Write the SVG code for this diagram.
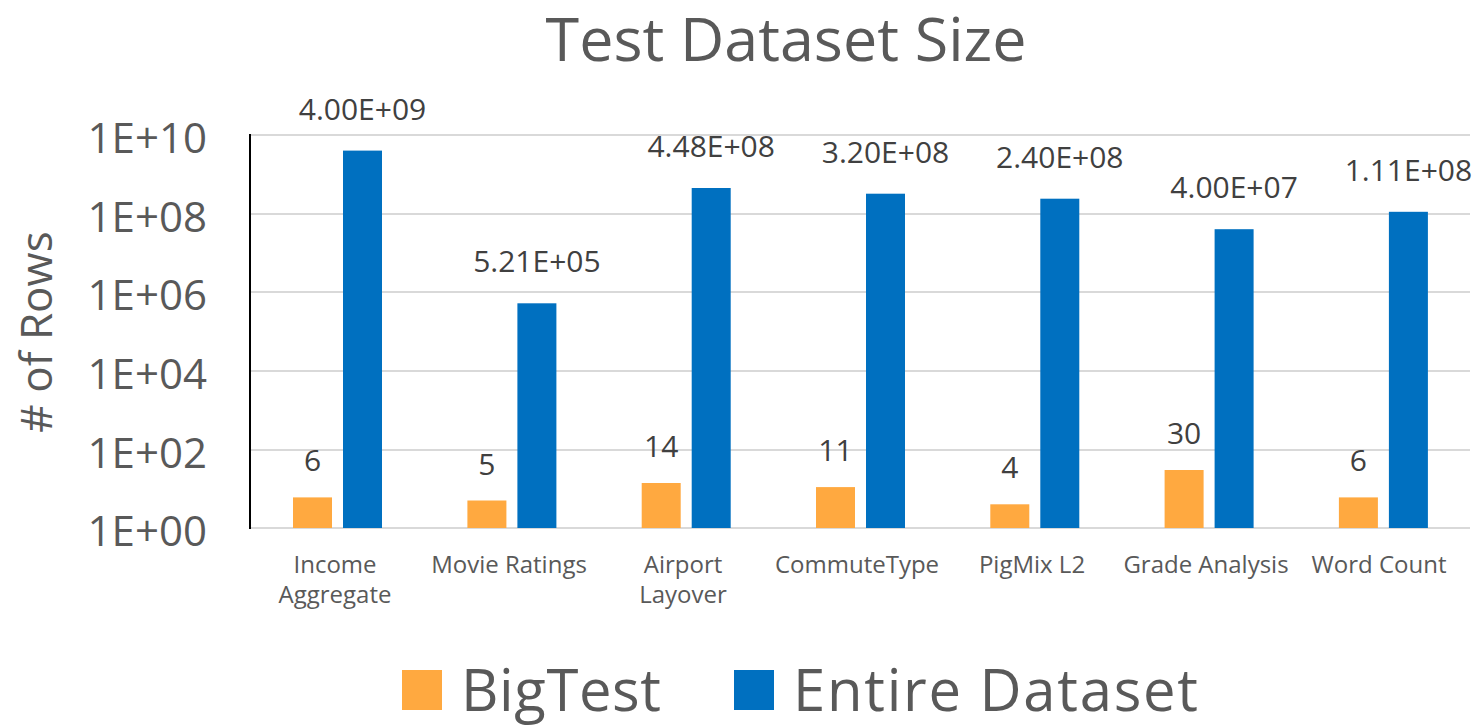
<svg xmlns="http://www.w3.org/2000/svg" width="1474" height="725" viewBox="0 0 1474 725">
<style>
text{font-family:"Open Sans","Noto Sans",sans-serif;}
.title{font-size:61px;fill:#595959;text-anchor:middle;}
.tick{font-size:42px;fill:#595959;text-anchor:end;}
.axt{font-size:44px;fill:#595959;text-anchor:middle;}
.cat{font-size:24px;fill:#595959;text-anchor:middle;}
.dl{font-size:30px;fill:#404040;text-anchor:middle;}
.leg{font-size:58px;fill:#595959;}
.grid{stroke:#d9d9d9;stroke-width:2;}
.o{fill:#FFA940;}
.b{fill:#0070C0;}
</style>
<rect width="1474" height="725" fill="#fff"/>
<text class="title" x="786" y="61">Test Dataset Size</text>
<g id="axes">
<line class="grid" x1="250" y1="135" x2="1470" y2="135"/>
<line class="grid" x1="250" y1="214" x2="1470" y2="214"/>
<line class="grid" x1="250" y1="292" x2="1470" y2="292"/>
<line class="grid" x1="250" y1="371" x2="1470" y2="371"/>
<line class="grid" x1="250" y1="450" x2="1470" y2="450"/>
<line class="grid" x1="250" y1="528" x2="1470" y2="528"/>
<line x1="250" y1="134" x2="250" y2="529" stroke="#000" stroke-width="2"/>
<text class="tick" x="207" y="153">1E+10</text>
<text class="tick" x="207" y="232">1E+08</text>
<text class="tick" x="207" y="310">1E+06</text>
<text class="tick" x="207" y="389">1E+04</text>
<text class="tick" x="207" y="468">1E+02</text>
<text class="tick" x="207" y="546">1E+00</text>
<text class="axt" transform="translate(52,332) rotate(-90)"># of Rows</text>
</g>
<g id="income-aggregate">
<rect class="o" x="293" y="497.4" width="39" height="30.6"/>
<rect class="b" x="343" y="150.6" width="39" height="377.4"/>
<text class="dl" x="312.5" y="471.4">6</text>
<text class="dl" x="362.5" y="119.6">4.00E+09</text>
<text class="cat" x="335" y="573">Income</text>
<text class="cat" x="335" y="603">Aggregate</text>
</g>
<g id="movie-ratings">
<rect class="o" x="467.4" y="500.5" width="39" height="27.5"/>
<rect class="b" x="517.4" y="303.3" width="39" height="224.7"/>
<text class="dl" x="486.9" y="474.5">5</text>
<text class="dl" x="536.9" y="272.3">5.21E+05</text>
<text class="cat" x="509" y="573">Movie Ratings</text>
</g>
<g id="airport-layover">
<rect class="o" x="641.7" y="483" width="39" height="45"/>
<rect class="b" x="691.7" y="188" width="39" height="340"/>
<text class="dl" x="661.2" y="457">14</text>
<text class="dl" x="711.2" y="157">4.48E+08</text>
<text class="cat" x="683" y="573">Airport</text>
<text class="cat" x="683" y="603">Layover</text>
</g>
<g id="commutetype">
<rect class="o" x="816" y="487.1" width="39" height="40.9"/>
<rect class="b" x="866" y="193.7" width="39" height="334.3"/>
<text class="dl" x="835.5" y="461.1">11</text>
<text class="dl" x="885.5" y="162.7">3.20E+08</text>
<text class="cat" x="857" y="573">CommuteType</text>
</g>
<g id="pigmix-l2">
<rect class="o" x="990.3" y="504.3" width="39" height="23.7"/>
<rect class="b" x="1040.3" y="198.7" width="39" height="329.3"/>
<text class="dl" x="1009.8" y="478.3">4</text>
<text class="dl" x="1059.8" y="167.7">2.40E+08</text>
<text class="cat" x="1032" y="573">PigMix L2</text>
</g>
<g id="grade-analysis">
<rect class="o" x="1164.6" y="470" width="39" height="58"/>
<rect class="b" x="1214.6" y="229.2" width="39" height="298.8"/>
<text class="dl" x="1184.1" y="444">30</text>
<text class="dl" x="1234.1" y="198.2">4.00E+07</text>
<text class="cat" x="1206" y="573">Grade Analysis</text>
</g>
<g id="word-count">
<rect class="o" x="1338.9" y="497.4" width="39" height="30.6"/>
<rect class="b" x="1388.9" y="211.8" width="39" height="316.2"/>
<text class="dl" x="1358.4" y="471.4">6</text>
<text class="dl" x="1408.4" y="180.8">1.11E+08</text>
<text class="cat" x="1379" y="573">Word Count</text>
</g>
<g id="legend">
<rect class="o" x="402" y="670" width="40" height="40"/>
<text class="leg" x="461" y="711" textLength="200" lengthAdjust="spacing">BigTest</text>
<rect class="b" x="734" y="670" width="40" height="40"/>
<text class="leg" x="793" y="711" textLength="405" lengthAdjust="spacing">Entire Dataset</text>
</g>
<g id="connectors"></g>
</svg>
